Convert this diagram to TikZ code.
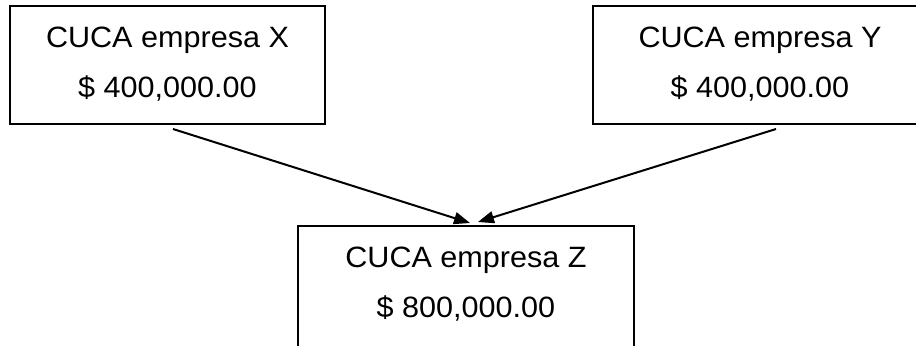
\documentclass[tikz,border=0pt]{standalone}
\usepackage{fontspec}
\setmainfont{Liberation Sans}[FakeStretch=1.04]
\usetikzlibrary{positioning,arrows.meta}

\begin{document}
\begin{tikzpicture}[x=0.5pt,y=-0.5pt,
        cuca/.style={draw,line width=1pt,inner xsep=0pt,inner ysep=0pt,align=center,
            anchor=north west,text height=45.5pt,text depth=13.5pt,
            font=\fontsize{14.7}{25}\selectfont},
        flecha/.style={line width=1pt,-{Triangle[length=8pt,width=6pt]}}]
        \useasboundingbox (0,0) rectangle (916,345);
        \node[cuca,minimum width=157.5pt] (X) at (9,5) {CUCA empresa X\\\$ 400,000.00};
        \node[cuca,minimum width=167pt] (Y) at (592,5) {CUCA empresa Y\\\$ 400,000.00};
        \node[cuca,minimum width=168pt,text depth=40pt] (Z) at (297,225) {CUCA empresa Z\\\$ 800,000.00};
        \coordinate (xout) at ([shift={(5.5,4)}]X.south);
        \coordinate (yout) at ([shift={(16,4)}]Y.south);
        \coordinate (zinx) at ([shift={(4,-2)}]Z.north);
        \coordinate (ziny) at ([shift={(12,-3)}]Z.north);
        \draw[flecha] (xout) -- (zinx);
        \draw[flecha] (yout) -- (ziny);
    \end{tikzpicture}
\end{document}
